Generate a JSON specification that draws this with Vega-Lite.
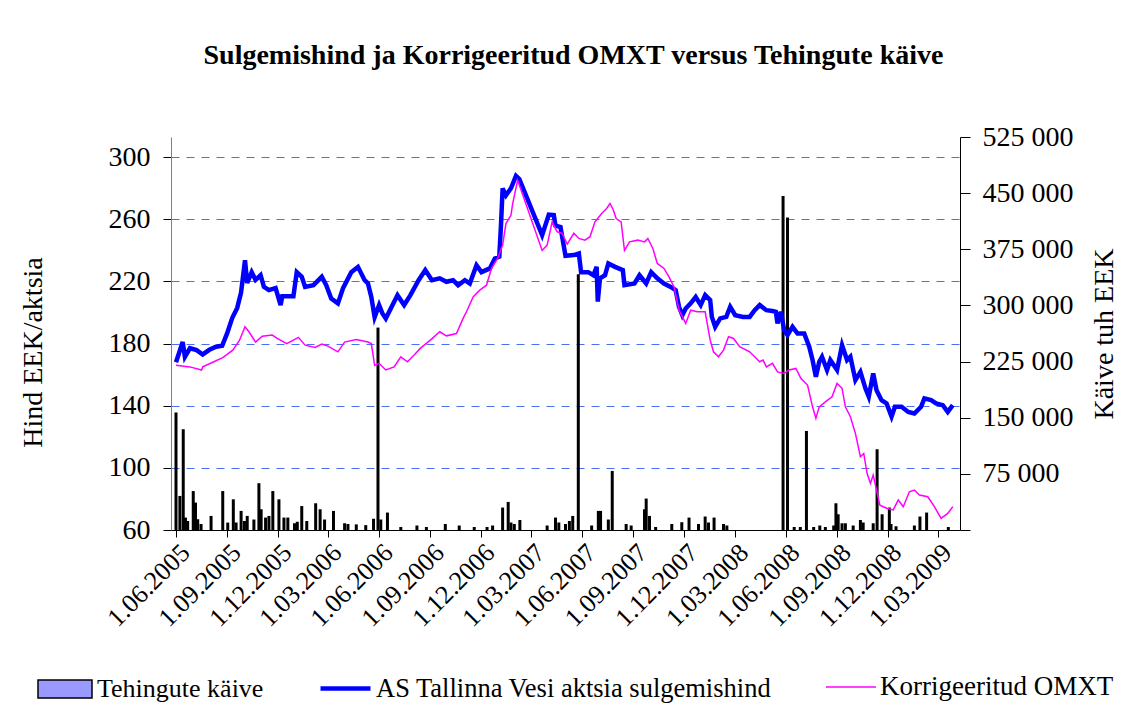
{
  "$schema": "https://vega.github.io/schema/vega-lite/v6.json",
  "autosize": {"type": "none"},
  "padding": {"left": 171, "top": 137, "right": 165, "bottom": 181},
  "width": 789,
  "height": 393,
  "background": "white",
  "config": {
    "font": "Liberation Serif",
    "view": {"stroke": null},
    "axis": {"labelColor": "black", "titleColor": "black", "labelFont": "Liberation Serif", "titleFont": "Liberation Serif", "titleFontWeight": "normal"},
    "legend": {"labelFont": "Liberation Serif", "labelColor": "black", "padding": 0}
  },
  "title": {
    "text": "Sulgemishind ja Korrigeeritud OMXT versus Tehingute käive",
    "font": "Liberation Serif", "fontSize": 28, "fontWeight": "bold", "color": "black",
    "anchor": "middle", "frame": "group", "offset": 53, "dx": 8
  },
  "datasets": {
    "vol": [
      {"d":"2005-06-01","v":156000},{"d":"2005-06-08","v":44500},{"d":"2005-06-14","v":133600},{"d":"2005-06-18","v":15600},{"d":"2005-06-22","v":11000},{"d":"2005-07-02","v":51000},{"d":"2005-07-06","v":35600},{"d":"2005-07-10","v":13400},{"d":"2005-07-16","v":7000},{"d":"2005-08-03","v":17800},{"d":"2005-08-24","v":51000},{"d":"2005-09-02","v":8900},{"d":"2005-09-12","v":40000},{"d":"2005-09-17","v":9000},{"d":"2005-09-26","v":24500},{"d":"2005-10-02","v":11000},{"d":"2005-10-07","v":17800},{"d":"2005-10-19","v":13000},{"d":"2005-10-28","v":61500},{"d":"2005-11-01","v":26700},{"d":"2005-11-09","v":15600},{"d":"2005-11-15","v":17800},{"d":"2005-11-22","v":51000},{"d":"2005-12-03","v":40000},{"d":"2005-12-12","v":15600},{"d":"2005-12-19","v":15600},{"d":"2005-12-31","v":8000},{"d":"2006-01-05","v":10000},{"d":"2006-01-13","v":31000},{"d":"2006-01-22","v":11000},{"d":"2006-02-07","v":34700},{"d":"2006-02-15","v":26700},{"d":"2006-02-23","v":13000},{"d":"2006-03-11","v":24500},{"d":"2006-03-31","v":8000},{"d":"2006-04-06","v":7000},{"d":"2006-04-21","v":6500},{"d":"2006-05-08","v":5500},{"d":"2006-05-22","v":14000},{"d":"2006-05-30","v":269400},{"d":"2006-06-04","v":13000},{"d":"2006-06-16","v":22300},{"d":"2006-07-10","v":3000},{"d":"2006-08-08","v":5000},{"d":"2006-08-25","v":3000},{"d":"2006-09-28","v":7000},{"d":"2006-10-23","v":5000},{"d":"2006-11-19","v":3000},{"d":"2006-12-12","v":3000},{"d":"2006-12-22","v":5000},{"d":"2007-01-09","v":29000},{"d":"2007-01-19","v":36500},{"d":"2007-01-24","v":9000},{"d":"2007-01-30","v":7000},{"d":"2007-02-09","v":12400},{"d":"2007-03-30","v":5000},{"d":"2007-04-14","v":15600},{"d":"2007-04-20","v":9000},{"d":"2007-05-02","v":7000},{"d":"2007-05-09","v":11000},{"d":"2007-05-15","v":17800},{"d":"2007-05-25","v":340700},{"d":"2007-06-18","v":5000},{"d":"2007-06-30","v":24500},{"d":"2007-07-04","v":24500},{"d":"2007-07-18","v":13000},{"d":"2007-07-25","v":77900},{"d":"2007-08-19","v":7000},{"d":"2007-08-28","v":5000},{"d":"2007-09-21","v":26700},{"d":"2007-09-24","v":41000},{"d":"2007-09-30","v":17800},{"d":"2007-10-11","v":3000},{"d":"2007-11-09","v":7000},{"d":"2007-11-27","v":9400},{"d":"2007-12-10","v":15600},{"d":"2007-12-27","v":7000},{"d":"2008-01-08","v":17000},{"d":"2008-01-14","v":9000},{"d":"2008-01-24","v":15600},{"d":"2008-02-10","v":7000},{"d":"2008-02-16","v":5000},{"d":"2008-05-27","v":445300},{"d":"2008-06-04","v":416400},{"d":"2008-06-16","v":3000},{"d":"2008-06-27","v":3000},{"d":"2008-07-08","v":131300},{"d":"2008-07-21","v":3000},{"d":"2008-08-01","v":5000},{"d":"2008-08-11","v":3000},{"d":"2008-08-26","v":5000},{"d":"2008-08-30","v":34700},{"d":"2008-09-03","v":20000},{"d":"2008-09-10","v":8000},{"d":"2008-09-16","v":8000},{"d":"2008-09-30","v":5000},{"d":"2008-10-13","v":12400},{"d":"2008-10-18","v":9000},{"d":"2008-11-05","v":8000},{"d":"2008-11-12","v":106900},{"d":"2008-11-21","v":20000},{"d":"2008-12-04","v":29000},{"d":"2008-12-07","v":7000},{"d":"2008-12-16","v":4000},{"d":"2009-01-18","v":5000},{"d":"2009-01-28","v":17000},{"d":"2009-02-09","v":22300},{"d":"2009-03-20","v":3000}
    ],
    "price": [
      {"d":"2005-06-01","v":168},{"d":"2005-06-13","v":181},{"d":"2005-06-17","v":171.5},{"d":"2005-06-26","v":177},{"d":"2005-07-08","v":175.8},{"d":"2005-07-19","v":173},{"d":"2005-07-31","v":176},{"d":"2005-08-12","v":178},{"d":"2005-08-23","v":178.6},{"d":"2005-09-01","v":186.7},{"d":"2005-09-10","v":196.4},{"d":"2005-09-19","v":203},{"d":"2005-09-26","v":213},{"d":"2005-10-03","v":233.7},{"d":"2005-10-07","v":219},{"d":"2005-10-15","v":226},{"d":"2005-10-22","v":221},{"d":"2005-10-31","v":224},{"d":"2005-11-06","v":216.5},{"d":"2005-11-15","v":214.4},{"d":"2005-11-27","v":215.7},{"d":"2005-12-06","v":204.8},{"d":"2005-12-09","v":210.5},{"d":"2005-12-29","v":210.5},{"d":"2006-01-04","v":226},{"d":"2006-01-13","v":223},{"d":"2006-01-19","v":216.5},{"d":"2006-02-03","v":217.6},{"d":"2006-02-18","v":223},{"d":"2006-02-26","v":217.6},{"d":"2006-03-07","v":209},{"d":"2006-03-19","v":205.9},{"d":"2006-03-28","v":215.5},{"d":"2006-04-12","v":226},{"d":"2006-04-24","v":229.4},{"d":"2006-05-06","v":220.8},{"d":"2006-05-12","v":218.7},{"d":"2006-05-18","v":210},{"d":"2006-05-24","v":197},{"d":"2006-06-01","v":204.8},{"d":"2006-06-07","v":199.4},{"d":"2006-06-13","v":196.2},{"d":"2006-06-22","v":202.6},{"d":"2006-07-04","v":211.2},{"d":"2006-07-16","v":204.8},{"d":"2006-07-27","v":211},{"d":"2006-08-11","v":220.8},{"d":"2006-08-23","v":227.3},{"d":"2006-09-04","v":220.8},{"d":"2006-09-18","v":222},{"d":"2006-09-30","v":219.8},{"d":"2006-10-12","v":220.8},{"d":"2006-10-21","v":217.6},{"d":"2006-11-02","v":220.8},{"d":"2006-11-11","v":218.7},{"d":"2006-11-23","v":230.5},{"d":"2006-12-02","v":226},{"d":"2006-12-17","v":228.4},{"d":"2006-12-26","v":234.8},{"d":"2007-01-03","v":235.9},{"d":"2007-01-06","v":256},{"d":"2007-01-09","v":279.9},{"d":"2007-01-15","v":275.5},{"d":"2007-01-24","v":280},{"d":"2007-02-02","v":288},{"d":"2007-02-08","v":286},{"d":"2007-03-21","v":249.8},{"d":"2007-04-02","v":263},{"d":"2007-04-11","v":262.7},{"d":"2007-04-14","v":256},{"d":"2007-04-23","v":255},{"d":"2007-05-02","v":236.5},{"d":"2007-05-17","v":237},{"d":"2007-05-26","v":238},{"d":"2007-05-30","v":226},{"d":"2007-06-12","v":226},{"d":"2007-06-21","v":224},{"d":"2007-06-27","v":229.4},{"d":"2007-06-29","v":207},{"d":"2007-07-03","v":222},{"d":"2007-07-12","v":224},{"d":"2007-07-18","v":231.6},{"d":"2007-07-30","v":229.4},{"d":"2007-08-13","v":227.3},{"d":"2007-08-16","v":217.6},{"d":"2007-09-03","v":218.7},{"d":"2007-09-12","v":224},{"d":"2007-09-24","v":218.7},{"d":"2007-10-03","v":226},{"d":"2007-10-14","v":222},{"d":"2007-10-26","v":218.7},{"d":"2007-11-07","v":216.5},{"d":"2007-11-16","v":214.4},{"d":"2007-11-22","v":203.7},{"d":"2007-11-28","v":198.3},{"d":"2007-12-04","v":202.6},{"d":"2007-12-13","v":205.9},{"d":"2007-12-22","v":210},{"d":"2007-12-31","v":204.8},{"d":"2008-01-08","v":211.2},{"d":"2008-01-17","v":208},{"d":"2008-01-20","v":197.2},{"d":"2008-01-26","v":190.8},{"d":"2008-02-04","v":196.2},{"d":"2008-02-15","v":197.2},{"d":"2008-02-22","v":203.7},{"d":"2008-03-02","v":198.3},{"d":"2008-03-16","v":197.2},{"d":"2008-03-28","v":197.2},{"d":"2008-04-06","v":201.5},{"d":"2008-04-15","v":204.8},{"d":"2008-04-27","v":201.5},{"d":"2008-05-08","v":201},{"d":"2008-05-14","v":200.5},{"d":"2008-05-17","v":193},{"d":"2008-05-23","v":200.5},{"d":"2008-05-29","v":188.7},{"d":"2008-06-04","v":185.5},{"d":"2008-06-13","v":190.8},{"d":"2008-06-22","v":186.5},{"d":"2008-07-04","v":186.5},{"d":"2008-07-13","v":178},{"d":"2008-07-19","v":169.4},{"d":"2008-07-25","v":158.6},{"d":"2008-07-31","v":168.3},{"d":"2008-08-05","v":171.5},{"d":"2008-08-14","v":163},{"d":"2008-08-20","v":169.4},{"d":"2008-09-01","v":163},{"d":"2008-09-10","v":179},{"d":"2008-09-19","v":169.4},{"d":"2008-09-25","v":171.5},{"d":"2008-10-04","v":156.5},{"d":"2008-10-13","v":161.8},{"d":"2008-10-22","v":151.2},{"d":"2008-10-28","v":145.8},{"d":"2008-11-05","v":160.8},{"d":"2008-11-11","v":150},{"d":"2008-11-20","v":143.6},{"d":"2008-11-29","v":141.5},{"d":"2008-12-08","v":133},{"d":"2008-12-14","v":139.3},{"d":"2008-12-26","v":139.3},{"d":"2009-01-07","v":136},{"d":"2009-01-18","v":135},{"d":"2009-01-30","v":139.3},{"d":"2009-02-05","v":144.7},{"d":"2009-02-17","v":143.6},{"d":"2009-02-26","v":141.5},{"d":"2009-03-10","v":140.4},{"d":"2009-03-19","v":136},{"d":"2009-03-28","v":140.4}
    ],
    "omxt": [
      {"d":"2005-06-01","v":166},{"d":"2005-06-26","v":165},{"d":"2005-07-17","v":163},{"d":"2005-07-19","v":165},{"d":"2005-08-06","v":168},{"d":"2005-08-24","v":171},{"d":"2005-09-11","v":175.8},{"d":"2005-09-23","v":182},{"d":"2005-10-03","v":190.8},{"d":"2005-10-10","v":187.6},{"d":"2005-10-22","v":181},{"d":"2005-11-03","v":184.8},{"d":"2005-11-21","v":185.5},{"d":"2005-11-30","v":183.3},{"d":"2005-12-17","v":180},{"d":"2006-01-07","v":184},{"d":"2006-01-19","v":179},{"d":"2006-02-06","v":177.5},{"d":"2006-02-18","v":179.7},{"d":"2006-03-01","v":178.4},{"d":"2006-03-19","v":174.7},{"d":"2006-03-31","v":181},{"d":"2006-04-21","v":182.7},{"d":"2006-05-12","v":181},{"d":"2006-05-18","v":180},{"d":"2006-05-24","v":166},{"d":"2006-06-01","v":167.3},{"d":"2006-06-13","v":163},{"d":"2006-06-28","v":165},{"d":"2006-07-10","v":171.5},{"d":"2006-07-22","v":168.3},{"d":"2006-08-03","v":172.6},{"d":"2006-08-14","v":176.9},{"d":"2006-09-01","v":182.2},{"d":"2006-09-18","v":187.6},{"d":"2006-09-30","v":185},{"d":"2006-10-18","v":186.5},{"d":"2006-10-30","v":196.2},{"d":"2006-11-05","v":200.5},{"d":"2006-11-17","v":210},{"d":"2006-11-29","v":214.4},{"d":"2006-12-11","v":217.6},{"d":"2006-12-20","v":228.4},{"d":"2006-12-31","v":234.8},{"d":"2007-01-09","v":243.4},{"d":"2007-01-15","v":257.3},{"d":"2007-01-24","v":262.7},{"d":"2007-01-27","v":270},{"d":"2007-02-05","v":285.2},{"d":"2007-03-21","v":240},{"d":"2007-03-30","v":243.4},{"d":"2007-04-08","v":258.4},{"d":"2007-04-17","v":252},{"d":"2007-04-26","v":251},{"d":"2007-05-05","v":244},{"d":"2007-05-17","v":251},{"d":"2007-05-26","v":247.7},{"d":"2007-06-06","v":246.6},{"d":"2007-06-15","v":248.8},{"d":"2007-06-24","v":258.4},{"d":"2007-07-06","v":263.8},{"d":"2007-07-15","v":267},{"d":"2007-07-21","v":270.2},{"d":"2007-07-27","v":266},{"d":"2007-08-01","v":260.5},{"d":"2007-08-10","v":258.4},{"d":"2007-08-16","v":240},{"d":"2007-08-25","v":245.5},{"d":"2007-09-09","v":246.6},{"d":"2007-09-21","v":245.5},{"d":"2007-09-27","v":247.7},{"d":"2007-10-06","v":241.2},{"d":"2007-10-14","v":231.6},{"d":"2007-10-26","v":228.4},{"d":"2007-11-04","v":223},{"d":"2007-11-13","v":216.5},{"d":"2007-11-22","v":201.5},{"d":"2007-12-04","v":193},{"d":"2007-12-13","v":201.5},{"d":"2007-12-25","v":200.5},{"d":"2008-01-08","v":200.5},{"d":"2008-01-17","v":182.2},{"d":"2008-01-23","v":174.7},{"d":"2008-02-01","v":171.5},{"d":"2008-02-10","v":175.8},{"d":"2008-02-19","v":184.4},{"d":"2008-02-28","v":183.3},{"d":"2008-03-10","v":178},{"d":"2008-03-28","v":174.7},{"d":"2008-04-15","v":168.3},{"d":"2008-04-21","v":169.4},{"d":"2008-04-27","v":165},{"d":"2008-05-08","v":167.3},{"d":"2008-05-17","v":161.8},{"d":"2008-05-29","v":160.8},{"d":"2008-06-07","v":163},{"d":"2008-06-19","v":164},{"d":"2008-06-28","v":157.6},{"d":"2008-07-10","v":153.3},{"d":"2008-07-19","v":139.3},{"d":"2008-07-25","v":131.9},{"d":"2008-07-31","v":139.3},{"d":"2008-08-11","v":142.5},{"d":"2008-08-23","v":145.8},{"d":"2008-09-01","v":154.4},{"d":"2008-09-10","v":151.2},{"d":"2008-09-16","v":139.3},{"d":"2008-09-25","v":132.9},{"d":"2008-10-04","v":122.2},{"d":"2008-10-13","v":107.2},{"d":"2008-10-19","v":109.3},{"d":"2008-10-25","v":96.5},{"d":"2008-10-31","v":90},{"d":"2008-11-05","v":95.4},{"d":"2008-11-11","v":85.7},{"d":"2008-11-17","v":76},{"d":"2008-11-29","v":74},{"d":"2008-12-11","v":72.9},{"d":"2008-12-20","v":79.3},{"d":"2008-12-29","v":75},{"d":"2009-01-09","v":84.6},{"d":"2009-01-18","v":85.7},{"d":"2009-01-27","v":82.5},{"d":"2009-02-11","v":81.4},{"d":"2009-02-23","v":75},{"d":"2009-03-07","v":67.5},{"d":"2009-03-19","v":70.7},{"d":"2009-03-28","v":75}
    ]
  },
  "layer": [
    {
      "data": {"name": "vol"},
      "mark": {"type": "bar", "width": 1.5, "stroke": "black", "strokeWidth": 1.5},
      "encoding": {
        "x": {
          "field": "d", "type": "temporal",
          "scale": {"type": "utc", "domain": [{"year": 2005, "month": 6, "date": 1, "utc": true}, {"year": 2009, "month": 4, "date": 1, "utc": true}]},
          "axis": {
            "title": null, "grid": false, "zindex": 1,
            "values": [
              {"year": 2005, "month": 6, "date": 1, "utc": true}, {"year": 2005, "month": 9, "date": 1, "utc": true}, {"year": 2005, "month": 12, "date": 1, "utc": true},
              {"year": 2006, "month": 3, "date": 1, "utc": true}, {"year": 2006, "month": 6, "date": 1, "utc": true}, {"year": 2006, "month": 9, "date": 1, "utc": true}, {"year": 2006, "month": 12, "date": 1, "utc": true},
              {"year": 2007, "month": 3, "date": 1, "utc": true}, {"year": 2007, "month": 6, "date": 1, "utc": true}, {"year": 2007, "month": 9, "date": 1, "utc": true}, {"year": 2007, "month": 12, "date": 1, "utc": true},
              {"year": 2008, "month": 3, "date": 1, "utc": true}, {"year": 2008, "month": 6, "date": 1, "utc": true}, {"year": 2008, "month": 9, "date": 1, "utc": true}, {"year": 2008, "month": 12, "date": 1, "utc": true},
              {"year": 2009, "month": 3, "date": 1, "utc": true}
            ],
            "format": "%-d.%m.%Y",
            "labelAngle": -45, "labelAlign": "right", "labelBaseline": "top",
            "labelFontSize": 26, "labelPadding": 2, "labelOverlap": false, "labelFlush": false, "labelBound": false,
            "tickSize": 7, "tickColor": "black", "domainColor": "black", "domainWidth": 1
          }
        },
        "y": {
          "field": "v", "type": "quantitative",
          "scale": {"domain": [0, 525000], "nice": false, "zero": true},
          "axis": {
            "orient": "right", "grid": false,
            "values": [0, 75000, 150000, 225000, 300000, 375000, 450000, 525000],
            "labelExpr": "datum.value == 0 ? '' : replace(format(datum.value, ','), ',', ' ')",
            "labelFontSize": 28, "labelPadding": 12, "tickSize": 10, "tickColor": "black", "domainColor": "black",
            "title": "Käive tuh EEK", "titleFontSize": 28, "titleAngle": 270, "titleBaseline": "top", "titlePadding": 17
          }
        },
        "color": {
          "datum": "Tehingute käive",
          "scale": {"range": ["#9999ff"]},
          "legend": {
            "title": null, "orient": "none", "legendX": -134, "legendY": 524,
            "symbolType": "M-1,-0.33H1V0.33H-1Z", "symbolSize": 2916, "symbolStrokeWidth": 1.5, "symbolStrokeColor": "black",
            "labelFontSize": 26, "labelOffset": 4, "labelLimit": 1000
          }
        }
      }
    },
    {
      "layer": [
        {
          "data": {"name": "price"},
          "mark": {"type": "line", "strokeWidth": 4.5},
          "encoding": {
            "x": {"field": "d", "type": "temporal"},
            "y": {
              "field": "v", "type": "quantitative",
              "scale": {"domain": [60, 313], "nice": false, "zero": false},
              "axis": {
                "orient": "left",
                "values": [60, 100, 140, 180, 220, 260, 300],
                "labelFontSize": 28, "labelPadding": 13, "tickSize": 8, "tickColor": "black", "domainColor": "#808080",
                "grid": true, "gridColor": "#4a6ff0", "gridDash": [8, 7], "gridWidth": 1,
                "title": "Hind EEK/aktsia", "titleFontSize": 28, "titlePadding": 61, "titleY": 215
              }
            },
            "color": {
              "datum": "AS Tallinna Vesi aktsia sulgemishind",
              "scale": {"range": ["#0000ff"]},
              "legend": {
                "title": null, "orient": "none", "legendX": 147, "legendY": 524,
                "symbolType": "stroke", "symbolSize": 2500, "symbolStrokeWidth": 4.5,
                "labelFontSize": 26.5, "labelOffset": 3, "labelLimit": 1000
              }
            }
          }
        },
        {
          "data": {"name": "omxt"},
          "mark": {"type": "line", "strokeWidth": 1.5},
          "encoding": {
            "x": {"field": "d", "type": "temporal"},
            "y": {"field": "v", "type": "quantitative"},
            "color": {
              "datum": "Korrigeeritud OMXT",
              "scale": {"range": ["#ff00ff"]},
              "legend": {
                "title": null, "orient": "none", "legendX": 654, "legendY": 524,
                "symbolType": "stroke", "symbolSize": 2500, "symbolStrokeWidth": 1.5,
                "labelFontSize": 27, "labelOffset": 3, "labelLimit": 1000
              }
            }
          }
        }
      ],
      "resolve": {"scale": {"color": "independent"}}
    }
  ],
  "resolve": {"scale": {"y": "independent", "color": "independent"}}
}
